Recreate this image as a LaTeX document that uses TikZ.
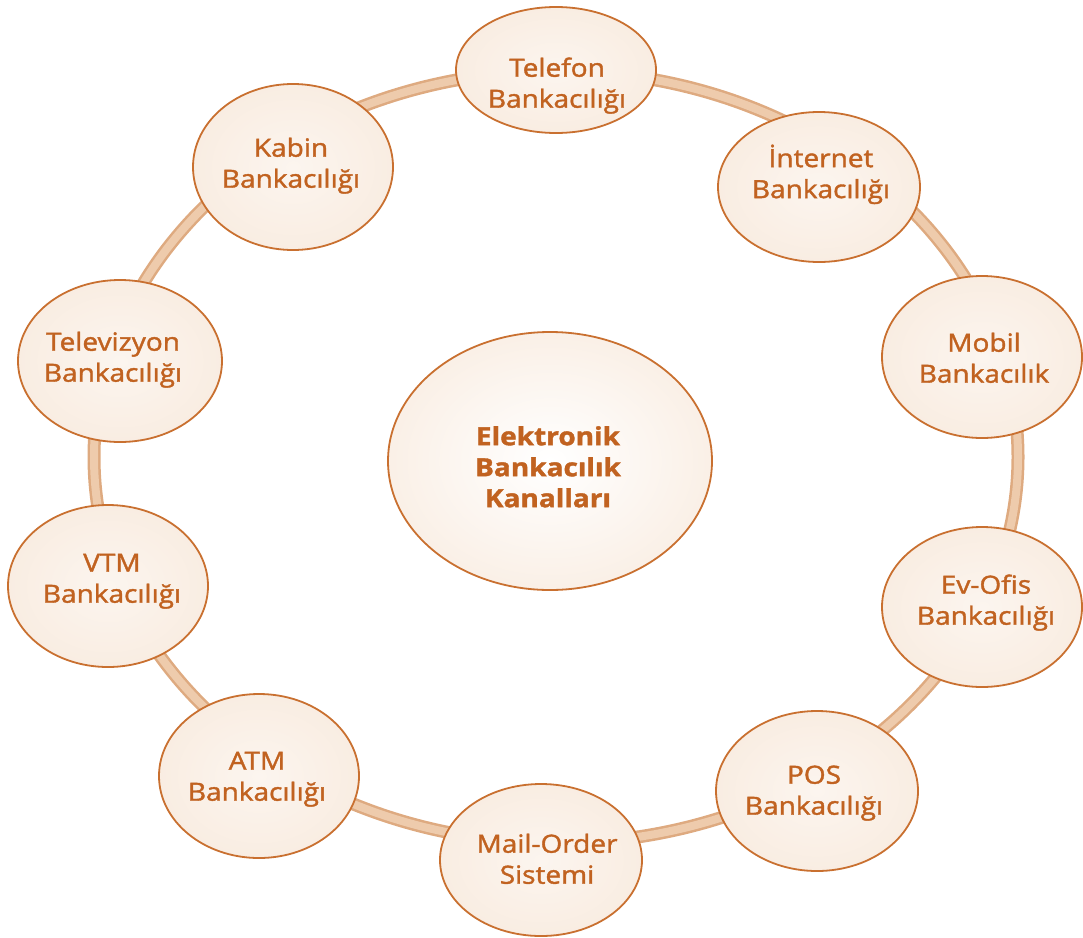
\documentclass[tikz,border=0pt]{standalone}
\usepackage{fontspec}
\setmainfont{Open Sans}[FakeStretch=1.12, FakeBold=1.5]
\usetikzlibrary{shapes.geometric}

\definecolor{labelorange}{RGB}{193,98,32}
\definecolor{rimorange}{RGB}{201,112,48}
\definecolor{creamfill}{RGB}{249,237,226}
\definecolor{ringtan}{RGB}{238,203,172}
\definecolor{ringedge}{RGB}{222,170,128}

\begin{document}
\begin{tikzpicture}[x=1pt,y=-1pt,
  bubble/.style={ellipse, draw=rimorange, line width=1.8pt,
    inner color=white!45!creamfill, outer color=creamfill, inner sep=0pt},
  hubbubble/.style={bubble, inner color=white, outer color=creamfill!85!white},
  caption/.style={text=labelorange, align=center, inner sep=0pt,
    font=\fontsize{25}{31}\selectfont},
  hubcaption/.style={caption, font=\fontsize{25}{31}\selectfont\bfseries}]

\path[use as bounding box] (0,0) rectangle (1083,937);

% the closed ring that links all channels
\coordinate (ringc) at (556,457);
\draw[line width=13pt, ringedge] (ringc) ellipse [x radius=462pt, y radius=386pt];
\draw[line width=8pt, ringtan] (ringc) ellipse [x radius=462pt, y radius=386pt];

% central bubble
\node[hubbubble, minimum width=324pt, minimum height=258pt] (hub) at (550,461) {};
\node[hubcaption] (hubtext) at (548,470) {\strut Elektronik\\\strut Bankacılık\\\strut Kanalları};

% channel bubbles
\node[bubble, minimum width=200pt, minimum height=126pt] (tel) at (556,70) {};
\node[bubble, minimum width=202pt, minimum height=150pt] (inet) at (819,187) {};
\node[bubble, minimum width=200pt, minimum height=162pt] (mob) at (982,357) {};
\node[bubble, minimum width=200pt, minimum height=160pt] (evo) at (982,607) {};
\node[bubble, minimum width=202pt, minimum height=160pt] (pos) at (817,791) {};
\node[bubble, minimum width=202pt, minimum height=152pt] (mail) at (541,860) {};
\node[bubble, minimum width=200pt, minimum height=164pt] (atm) at (259,776) {};
\node[bubble, minimum width=200pt, minimum height=162pt] (vtm) at (108,586) {};
\node[bubble, minimum width=204pt, minimum height=162pt] (tv) at (120,361) {};
\node[bubble, minimum width=200pt, minimum height=166pt] (kab) at (293,167) {};

% channel names
\node[caption] (teltext) at (557,86) {\strut Telefon\\\strut Bankacılığı};
\node[caption] (inettext) at (821,176) {\strut İnternet\\\strut Bankacılığı};
\node[caption] (mobtext) at (984,361) {\strut Mobil\\\strut Bankacılık};
\node[caption] (evotext) at (986,603) {\strut Ev-Ofis\\\strut Bankacılığı};
\node[caption] (postext) at (814,793) {\strut POS\\\strut Bankacılığı};
\node[caption] (mailtext) at (547,862) {\strut Mail-Order\\\strut Sistemi};
\node[caption] (atmtext) at (257,779) {\strut ATM\\\strut Bankacılığı};
\node[caption] (vtmtext) at (112,581) {\strut VTM\\\strut Bankacılığı};
\node[caption] (tvtext) at (113,360) {\strut Televizyon\\\strut Bankacılığı};
\node[caption] (kabtext) at (291,166) {\strut Kabin\\\strut Bankacılığı};

\end{tikzpicture}
\end{document}
